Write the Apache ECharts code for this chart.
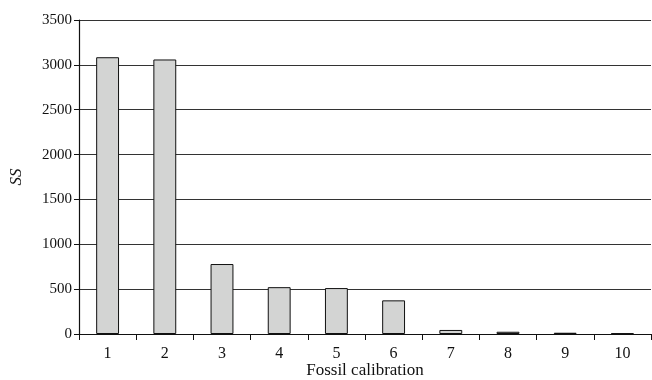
<!DOCTYPE html>
<html>
<head>
<meta charset="utf-8">
<script src="https://cdn.jsdelivr.net/npm/echarts@6/dist/echarts.min.js"></script>
<style>
  html, body { margin: 0; padding: 0; background: #fff; }
  #chart { width: 652px; height: 380px; }
</style>
</head>
<body>
<div id="chart"></div>
<script>
var categories = ['1', '2', '3', '4', '5', '6', '7', '8', '9', '10'];
var ssValues = [3085, 3060, 780, 522, 512, 375, 45, 25, 14, 8];
var yTicks = [0, 500, 1000, 1500, 2000, 2500, 3000, 3500];

var myChart = echarts.init(document.getElementById('chart'));
var option = {
    animation: false,
    grid: {
        left: 79,
        right: 1,
        top: 20,
        bottom: 46,
        containLabel: false,
        outerBoundsMode: 'none'
    },
    xAxis: {
        type: 'category',
        data: categories,
        name: 'Fossil calibration',
        nameLocation: 'middle',
        nameGap: 28,
        nameMoveOverlap: false,
        nameTextStyle: {
            fontFamily: 'Liberation Serif',
            fontSize: 17,
            color: '#111'
        },
        axisLine: { lineStyle: { color: '#111', width: 1.2 } },
        axisTick: { show: true, length: 6, alignWithLabel: false, lineStyle: { color: '#111' } },
        axisLabel: {
            fontFamily: 'Liberation Serif',
            fontSize: 16,
            color: '#111',
            margin: 12
        }
    },
    yAxis: {
        type: 'value',
        min: yTicks[0],
        max: yTicks[yTicks.length - 1],
        interval: 500,
        name: 'SS',
        nameLocation: 'middle',
        nameGap: 54,
        nameMoveOverlap: false,
        nameTextStyle: {
            fontFamily: 'Liberation Serif',
            fontStyle: 'italic',
            fontSize: 17,
            color: '#111'
        },
        axisLine: { show: true, lineStyle: { color: '#111', width: 1.2 } },
        axisTick: { show: true, length: 5, lineStyle: { color: '#111' } },
        axisLabel: {
            fontFamily: 'Liberation Serif',
            fontSize: 15,
            color: '#111',
            margin: 7,
            formatter: function (v) { return String(v); }
        },
        splitLine: { show: true, lineStyle: { color: '#333', width: 1 } }
    },
    series: [{
        name: 'SS',
        type: 'bar',
        data: ssValues,
        barWidth: '40%',
        itemStyle: {
            color: '#d3d4d3',
            borderColor: '#111',
            borderWidth: 1
        }
    }]
};
myChart.setOption(option);
</script>
</body>
</html>
